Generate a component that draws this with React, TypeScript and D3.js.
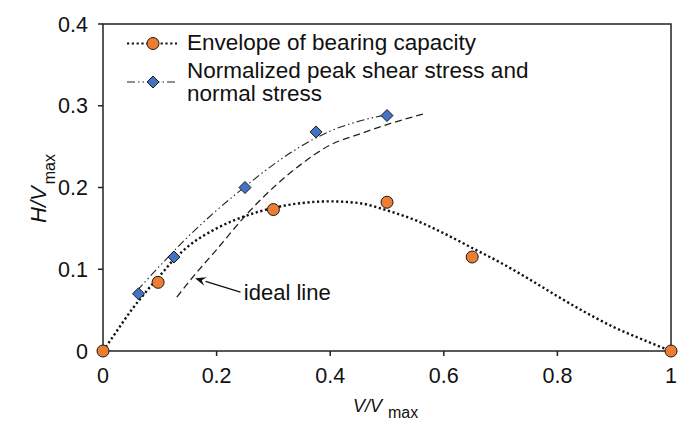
import * as d3 from 'd3';

// Envelope of bearing capacity (measured points)
const envX = [0, 0.097, 0.3, 0.5, 0.65, 1];
const envY = [0, 0.084, 0.173, 0.182, 0.115, 0];

// Normalized peak shear stress and normal stress
const peakX = [0.0625, 0.125, 0.25, 0.375, 0.5];
const peakY = [0.07, 0.115, 0.2, 0.268, 0.288];

// dotted envelope curve
const envCurveX = [0, 0.02, 0.05, 0.08, 0.1, 0.125, 0.15, 0.2, 0.25, 0.3, 0.35, 0.4, 0.45, 0.5, 0.55, 0.6, 0.65, 0.7, 0.75, 0.8, 0.85, 0.9, 0.95, 1];
const envCurveY = [0, 0.02, 0.05, 0.076, 0.092, 0.112, 0.128, 0.15, 0.165, 0.175, 0.181, 0.183, 0.181, 0.172, 0.16, 0.144, 0.126, 0.108, 0.088, 0.067, 0.047, 0.029, 0.014, 0];

// dash-dot fit through the peak points
const fitX = [0.06, 0.1, 0.15, 0.2, 0.25, 0.3, 0.35, 0.4, 0.45, 0.5];
const fitY = [0.074, 0.104, 0.14, 0.172, 0.201, 0.228, 0.251, 0.269, 0.281, 0.289];

// dashed "ideal line"
const idealX = [0.13, 0.16, 0.2, 0.25, 0.3, 0.35, 0.4, 0.45, 0.5, 0.57];
const idealY = [0.066, 0.092, 0.124, 0.165, 0.2, 0.229, 0.252, 0.265, 0.277, 0.291];

const xTicks = [0, 0.2, 0.4, 0.6, 0.8, 1];
const yTicks = [0, 0.1, 0.2, 0.3, 0.4];

const orange = '#ED7D31';
const blue = '#4472C4';
const ink = '#222';
const font = '"Liberation Sans", Arial, sans-serif';

const margin = { left: 103, right: 29, top: 24, bottom: 95 };
const W = 700;
const H = 446;

export default function App() {
  const x = d3.scaleLinear().domain([0, 1]).range([margin.left, W - margin.right]);
  const y = d3.scaleLinear().domain([0, 0.4]).range([H - margin.bottom, margin.top]);

  const line = (xs: number[], ys: number[]) =>
    d3.line<number>()
      .x(i => x(xs[i]))
      .y(i => y(ys[i]))
      .curve(d3.curveMonotoneX)(xs.map((_, i) => i)) as string;

  const diamond = (cx: number, cy: number, r = 6) =>
    `M${cx},${cy - r}L${cx + r},${cy}L${cx},${cy + r}L${cx - r},${cy}Z`;

  const x0 = x(0), x1 = x(1), y0 = y(0), y1 = y(0.4);

  // arrow for the ideal line label
  const tip = [x(0.162), y(0.089)];
  const tail = [x(0.242), y(0.072)];
  const ang = Math.atan2(tail[1] - tip[1], tail[0] - tip[0]);
  const hl = 11, hw = 4.5;
  const bx = tip[0] + hl * Math.cos(ang), by = tip[1] + hl * Math.sin(ang);
  const nx = -Math.sin(ang), ny = Math.cos(ang);
  const head = `M${tip[0]},${tip[1]}L${bx + nx * hw},${by + ny * hw}L${tip[0] + 7 * Math.cos(ang)},${tip[1] + 7 * Math.sin(ang)}L${bx - nx * hw},${by - ny * hw}Z`;

  const legX = 127, legX2 = 177, legTx = 187;

  return (
    <svg width={W} height={H} style={{ position: 'absolute', left: 0, top: 0, background: '#fff' }} fontFamily={font}>
      {/* frame */}
      <rect x={x0} y={y1} width={x1 - x0} height={y0 - y1} fill="none" stroke={ink} strokeWidth={1.5} />

      {/* ticks */}
      {xTicks.map(t => (
        <g key={'x' + t}>
          <line x1={x(t)} x2={x(t)} y1={y0} y2={y0 + 5} stroke={ink} strokeWidth={1.5} />
          <text x={x(t)} y={383} textAnchor="middle" fontSize={21.5} fill="#111">{d3.format('')(t)}</text>
        </g>
      ))}
      {yTicks.map(t => (
        <g key={'y' + t}>
          <line x1={x0 - 5} x2={x0} y1={y(t)} y2={y(t)} stroke={ink} strokeWidth={1.5} />
          <text x={88} y={y(t)} dy="0.36em" textAnchor="end" fontSize={21.5} fill="#111">{d3.format('')(t)}</text>
        </g>
      ))}

      {/* axis titles */}
      <text x={353} y={411.5} fontSize={18} fill="#111">
        <tspan fontStyle="italic">V/V</tspan>
        <tspan dx={6} dy={6} fontSize={16}>max</tspan>
      </text>
      <text transform="translate(46,223) rotate(-90)" fontSize={22} fill="#111">
        <tspan fontStyle="italic">H/V</tspan>
        <tspan dx={2} dy={9} fontSize={16}>max</tspan>
      </text>

      {/* curves */}
      <path d={line(idealX, idealY)} fill="none" stroke={ink} strokeWidth={1.3} strokeDasharray="7,4" />
      <path d={line(fitX, fitY)} fill="none" stroke={ink} strokeWidth={1.1} strokeDasharray="8,3,1.5,3,1.5,3" />
      <path d={line(envCurveX, envCurveY)} fill="none" stroke="#111" strokeWidth={2.4} strokeDasharray="2.2,2.6" />

      {/* markers */}
      {peakX.map((v, i) => (
        <path key={'p' + i} d={diamond(x(v), y(peakY[i]))} fill={blue} stroke="#1a1a1a" strokeWidth={1} />
      ))}
      {envX.map((v, i) => (
        <circle key={'e' + i} cx={x(v)} cy={y(envY[i])} r={6} fill={orange} stroke="#1a1a1a" strokeWidth={1} />
      ))}

      {/* annotation */}
      <line x1={tail[0]} y1={tail[1]} x2={bx} y2={by} stroke="#111" strokeWidth={1.3} />
      <path d={head} fill="#111" />
      <text x={x(0.248)} y={y(0.0624)} fontSize={22} fill="#111">ideal line</text>

      {/* legend */}
      <line x1={legX} x2={legX2} y1={43.5} y2={43.5} stroke="#111" strokeWidth={2.2} strokeDasharray="2.2,2.6" />
      <circle cx={153} cy={43.5} r={6} fill={orange} stroke="#1a1a1a" strokeWidth={1} />
      <text x={legTx} y={49.5} fontSize={22.5} fill="#111">Envelope of bearing capacity</text>

      <line x1={legX} x2={legX2} y1={82} y2={82} stroke={ink} strokeWidth={1.1} strokeDasharray="8,3,1.5,3,1.5,3" />
      <path d={diamond(153, 82)} fill={blue} stroke="#1a1a1a" strokeWidth={1} />
      <text x={legTx} y={78} fontSize={22.5} fill="#111">Normalized peak shear stress and</text>
      <text x={legTx} y={100.5} fontSize={22.5} fill="#111">normal stress</text>
    </svg>
  );
}
